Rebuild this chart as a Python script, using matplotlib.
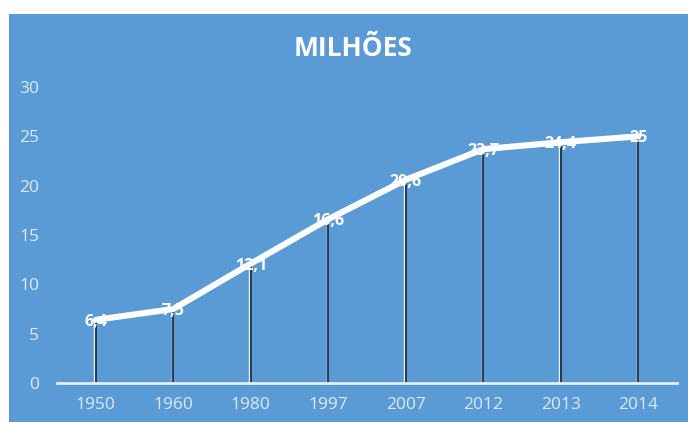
import matplotlib
matplotlib.use("Agg")
import matplotlib.pyplot as plt
import matplotlib.transforms as mtransforms
from matplotlib.patches import Rectangle

years = ["1950", "1960", "1980", "1997", "2007", "2012", "2013", "2014"]
population = [6.4, 7.5, 12.1, 16.6, 20.6, 23.7, 24.4, 25.0]
value_labels = ["6,4", "7,5", "12,1", "16,6", "20,6", "23,7", "24,4", "25"]
y_ticks = [0, 5, 10, 15, 20, 25, 30]

BG = "#5b9bd5"
TICK_COLOR = "#dde9f6"

plt.rcParams["font.family"] = ["Open Sans", "DejaVu Sans"]

fig = plt.figure(figsize=(6.88, 4.22), dpi=100)
fig.patch.set_facecolor("white")
fig.add_artist(Rectangle((9 / 688, 0), 1 - 9 / 688, (422 - 14) / 422,
                         transform=fig.transFigure, facecolor=BG,
                         edgecolor="none", zorder=0))

ax = fig.add_axes([57 / 688, (422 - 383) / 422, 620 / 688, (383 - 87) / 422])
ax.set_facecolor("none")

x = list(range(len(years)))

# drop lines from each point to the axis, with a light edge on the left
shift = mtransforms.offset_copy(ax.transData, fig=fig, x=-1.3, y=0, units="dots")
ax.vlines(x, 0, population, colors="#e8f0fa", linewidth=1.0, transform=shift, zorder=2)
ax.vlines(x, 0, population, colors="#25303f", linewidth=1.3, zorder=2)

ax.plot(x, population, color="white", linewidth=4.4, solid_capstyle="round",
        solid_joinstyle="round", zorder=3)

for xi, yi, lab in zip(x, population, value_labels):
    ax.annotate(lab, (xi, yi), xytext=(0, -1.5), textcoords="offset points",
                ha="center", va="center", color="white", fontsize=11.5,
                fontweight="bold", zorder=4)

ax.set_xlim(-0.5, len(years) - 0.5)
ax.set_ylim(0, 30)
ax.set_xticks(x)
ax.set_xticklabels(years)
ax.set_yticks(y_ticks)
ax.tick_params(axis="both", length=0, colors=TICK_COLOR, labelsize=12.5)
ax.tick_params(axis="x", pad=10)
ax.tick_params(axis="y", pad=13)

for side in ("top", "right", "left"):
    ax.spines[side].set_visible(False)
ax.spines["bottom"].set_color("#e6eff9")
ax.spines["bottom"].set_linewidth(2)

fig.text(353 / 688, 1 - 48 / 422, "MILHÕES", ha="center", va="center",
         color="white", fontsize=19, fontweight="bold")

fig.savefig("out.png", dpi=100, facecolor=fig.get_facecolor())
